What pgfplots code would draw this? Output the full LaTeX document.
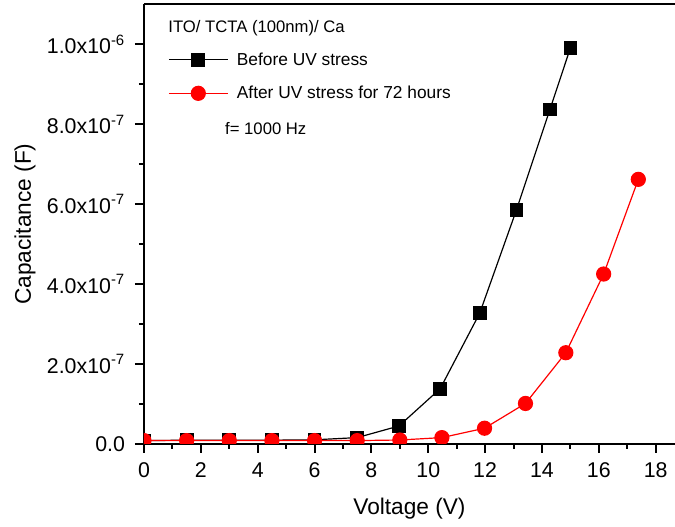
\documentclass[border=0pt]{standalone}
\usepackage{pgfplots}
\pgfplotsset{compat=1.18}
\usepackage{fontspec}
\setmainfont{Liberation Sans}

% Capacitance-voltage data, f = 1000 Hz
\usepackage{pgfplotstable}
\pgfplotstableread{
V      C
0      0.8e-8
1.5    0.9e-8
3      0.9e-8
4.5    0.9e-8
6      1.0e-8
7.5    1.55e-8
8.97   4.46e-8
10.42  1.38e-7
11.81  3.27e-7
13.1   5.85e-7
14.28  8.37e-7
15.0   9.91e-7
}\before
\pgfplotstableread{
V      C
0      0.8e-8
1.5    0.8e-8
3      0.8e-8
4.5    0.8e-8
6      0.8e-8
7.5    0.8e-8
9      0.95e-8
10.48  1.55e-8
11.98  3.9e-8
13.42  1.01e-7
14.84  2.28e-7
16.17  4.25e-7
17.39  6.62e-7
}\after

\begin{document}
\begin{tikzpicture}
\begin{axis}[
  at={(0,0)}, anchor=south west,
  scale only axis,
  width=398.25pt, height=329.55pt,
  xmin=0, xmax=18.68,
  ymin=0, ymax=1.1e-6,
  axis x line=box, axis y line=left,
  axis line style={-, line width=1.6pt},
  xtick pos=bottom, ytick pos=left,
  xtick={0,2,...,18},
  minor x tick num=1,
  ytick={0,2e-7,4e-7,6e-7,8e-7,1e-6},
  yticklabels={0.0,{2.0x10\textsuperscript{-7}},{4.0x10\textsuperscript{-7}},{6.0x10\textsuperscript{-7}},{8.0x10\textsuperscript{-7}},{1.0x10\textsuperscript{-6}}},
  minor y tick num=1,
  scaled y ticks=false,
  tick align=outside,
  major tick length=6.75pt, minor tick length=3.75pt,
  every tick/.style={line width=1.5pt, black},
  /pgf/number format/assume math mode=true,
  tick label style={font=\fontsize{16}{19}\selectfont},
  xticklabel style={yshift=-4pt},
  yticklabel style={xshift=-4pt},
  label style={font=\fontsize{17}{20}\selectfont},
  xlabel={Voltage (V)},
  ylabel={Capacitance (F)},
  xlabel style={at={(axis description cs:0.5,0)}, anchor=center, yshift=-48.4pt},
  ylabel style={at={(axis description cs:-0.2241,0.5)}, anchor=center},
  clip marker paths=true,
  legend style={at={(axis description cs:0.0454,0.891)}, anchor=north west,
    draw=none, fill=none, inner sep=0pt, row sep=14.2pt, column sep=6.5pt,
    font=\fontsize{13}{15}\selectfont,
    nodes={inner sep=0pt, anchor=west}},
  legend cell align=left,
  legend image code/.code={%
    \draw[mark repeat=2, mark phase=2] plot coordinates {(0pt,0pt) (22pt,0pt) (44pt,0pt)};
  },
]
\addplot[black, line width=0.9pt, mark=square*, mark size=4.7pt,
  mark options={solid, fill=black}] table[x=V, y=C] {\before};
\addlegendentry{Before UV stress}
\addplot[red, line width=0.9pt, mark=*, mark size=5.25pt,
  mark options={solid, fill=red}] table[x=V, y=C] {\after};
\addlegendentry{After UV stress for 72 hours}

\node[anchor=base west, font=\fontsize{12.5}{15}\selectfont, inner sep=0pt]
  at (axis description cs:0.0454,0.9358) {ITO/ TCTA (100nm)/ Ca};
\node[anchor=base west, font=\fontsize{12.5}{15}\selectfont, inner sep=0pt]
  at (axis description cs:0.1525,0.7028) {f= 1000 Hz};
\end{axis}
\pgfresetboundingbox
\path[use as bounding box] (-108pt,-62.4pt) rectangle (398.25pt,332.85pt);
\end{tikzpicture}
\end{document}
